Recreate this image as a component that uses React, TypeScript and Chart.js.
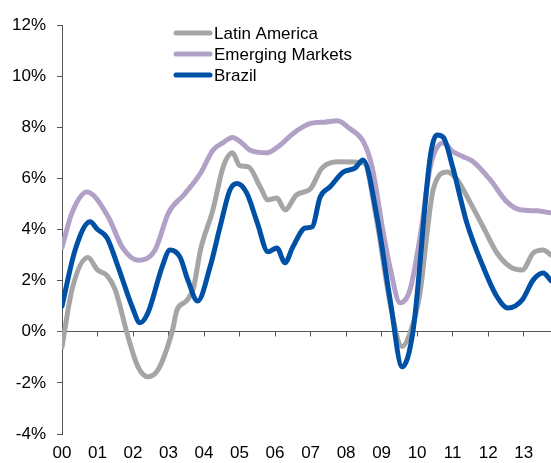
import React, { useEffect, useRef } from "react";
import { Chart, registerables } from "chart.js";

Chart.register(...registerables);

// Years are fractional years since 2000
const yearLabels = ["00", "01", "02", "03", "04", "05", "06", "07", "08", "09", "10", "11", "12", "13"];

const latamYears = [0, 0.28, 0.73, 1.0, 1.27, 1.5, 1.86, 2.14, 2.42, 2.7, 3.1, 3.24, 3.5, 3.7, 3.9, 4.25, 4.54, 4.8, 5.0, 5.25, 5.58, 5.8, 6.05, 6.28, 6.6, 7.0, 7.32, 7.83, 8.5, 8.87, 9.24, 9.58, 9.8, 10.08, 10.28, 10.45, 10.85, 11.13, 11.5, 11.86, 12.25, 12.62, 12.96, 13.27, 13.55, 13.77];
const latamValues = [-0.6, 1.64, 2.9, 2.42, 2.2, 1.64, -0.2, -1.37, -1.76, -1.5, 0.0, 0.86, 1.2, 1.7, 3.2, 4.77, 6.45, 7.0, 6.5, 6.45, 5.67, 5.16, 5.23, 4.77, 5.35, 5.6, 6.4, 6.65, 6.6, 4.3, 1.1, -0.58, -0.05, 1.5, 3.87, 5.55, 6.25, 5.94, 5.04, 4.1, 3.08, 2.54, 2.42, 3.08, 3.2, 3.0];

const emYears = [0, 0.28, 0.7, 1.3, 1.7, 2.14, 2.62, 3.0, 3.46, 3.9, 4.25, 4.54, 4.8, 5.05, 5.3, 5.77, 6.14, 6.5, 7.0, 7.4, 7.75, 8.1, 8.5, 8.73, 9.05, 9.24, 9.52, 9.8, 10.1, 10.37, 10.74, 11.0, 11.3, 11.58, 12.06, 12.53, 12.9, 13.38, 13.77];
const emValues = [3.3, 4.65, 5.47, 4.5, 3.3, 2.8, 3.2, 4.65, 5.4, 6.2, 7.1, 7.4, 7.6, 7.4, 7.1, 7.0, 7.3, 7.75, 8.15, 8.2, 8.25, 7.95, 7.4, 6.45, 3.85, 2.5, 1.13, 1.64, 3.85, 6.45, 7.38, 7.05, 6.85, 6.65, 5.94, 5.08, 4.77, 4.73, 4.65];

const brazilYears = [0, 0.37, 0.79, 1.0, 1.27, 1.58, 1.97, 2.2, 2.42, 2.82, 3.04, 3.32, 3.55, 3.82, 4.17, 4.45, 4.73, 4.93, 5.2, 5.5, 5.8, 6.05, 6.28, 6.5, 6.85, 7.04, 7.27, 7.55, 7.92, 8.25, 8.48, 8.87, 9.24, 9.58, 9.89, 10.37, 10.56, 10.74, 11.0, 11.4, 11.86, 12.25, 12.56, 12.96, 13.27, 13.55, 13.77];
const brazilValues = [1.0, 3.2, 4.3, 4.0, 3.67, 2.54, 1.0, 0.35, 0.74, 2.54, 3.2, 2.93, 2.0, 1.2, 2.54, 4.1, 5.55, 5.8, 5.43, 4.26, 3.13, 3.28, 2.7, 3.32, 4.06, 4.1, 5.27, 5.67, 6.25, 6.4, 6.72, 4.5, 1.25, -1.37, 0.08, 6.85, 7.7, 7.6, 6.45, 4.26, 2.54, 1.37, 0.93, 1.25, 2.03, 2.3, 2.0];

const seriesNames = ["Latin America", "Emerging Markets", "Brazil"];
const seriesColors = ["#A5A5A5", "#B2A1C7", "#0050A6"];

const FONT = "'Liberation Sans', Arial, sans-serif";
const AXIS_COLOR = "#555555";
const X_MAX = 13.77;

const toPoints = (xs: number[], ys: number[]) => xs.map((x, i) => ({ x, y: ys[i] }));

const align = (p: number) => Math.round(p - 0.5) + 0.5;

// x axis line crossing at 0% with downward tick marks
const zeroAxisPlugin = {
  id: "zeroAxis",
  afterDatasetsDraw(chart: any) {
    const { ctx, chartArea } = chart;
    const xs = chart.scales.x2;
    const ys = chart.scales.y;
    const y0 = align(ys.getPixelForValue(0));
    ctx.save();
    ctx.globalCompositeOperation = "destination-over";
    ctx.strokeStyle = AXIS_COLOR;
    ctx.lineWidth = 1;
    ctx.beginPath();
    ctx.moveTo(chartArea.left, y0);
    ctx.lineTo(chartArea.right, y0);
    for (let i = 0; i < yearLabels.length; i++) {
      const px = align(xs.getPixelForValue(i));
      ctx.moveTo(px, y0);
      ctx.lineTo(px, y0 + 5);
    }
    ctx.stroke();
    ctx.restore();
  },
};

const legendPlugin = {
  id: "insideLegend",
  afterDraw(chart: any) {
    const ctx = chart.ctx;
    ctx.save();
    chart.data.datasets.forEach((ds: any, i: number) => {
      const y = 33 + 21 * i;
      ctx.strokeStyle = ds.borderColor;
      ctx.lineWidth = 5;
      ctx.lineCap = "round";
      ctx.beginPath();
      ctx.moveTo(176, y);
      ctx.lineTo(210, y);
      ctx.stroke();
      ctx.fillStyle = "#000";
      ctx.font = `17px ${FONT}`;
      ctx.textBaseline = "middle";
      ctx.textAlign = "left";
      ctx.fillText(ds.label, 214, y + 1);
    });
    ctx.restore();
  },
};

export default function App() {
  const canvasRef = useRef<HTMLCanvasElement | null>(null);

  useEffect(() => {
    const canvas = canvasRef.current;
    if (!canvas) return;
    const datasets = [
      toPoints(latamYears, latamValues),
      toPoints(emYears, emValues),
      toPoints(brazilYears, brazilValues),
    ].map((data, i) => ({
      label: seriesNames[i],
      data,
      borderColor: seriesColors[i],
      backgroundColor: seriesColors[i],
      borderWidth: 5,
      pointRadius: 0,
      borderCapStyle: "round" as const,
      borderJoinStyle: "round" as const,
      cubicInterpolationMode: "monotone" as const,
      order: 2 - i,
      xAxisID: "x2",
    }));

    const chart = new Chart(canvas, {
      type: "line",
      data: { datasets },
      plugins: [zeroAxisPlugin, legendPlugin],
      options: {
        responsive: false,
        animation: false,
        layout: { padding: { top: 25, right: 0, left: 0, bottom: 0 } },
        plugins: { legend: { display: false }, tooltip: { enabled: false } },
        scales: {
          x2: {
            type: "linear",
            position: "bottom",
            min: 0,
            max: X_MAX,
            grid: { display: false, drawTicks: false },
            border: { display: false },
            ticks: {
              stepSize: 1,
              includeBounds: false,
              autoSkip: false,
              maxRotation: 0,
              padding: 9,
              color: "#000",
              font: { family: FONT, size: 17 },
              callback: (v: any) => yearLabels[Math.round(Number(v))] ?? "",
            },
            afterFit: (s: any) => {
              s.height = 29;
            },
          },
          y: {
            type: "linear",
            position: "left",
            min: -4,
            max: 12,
            grid: { drawOnChartArea: false, drawTicks: true, tickLength: 5, color: AXIS_COLOR, lineWidth: 1 },
            border: { display: true, color: AXIS_COLOR, width: 1 },
            ticks: {
              stepSize: 2,
              padding: 11,
              color: "#000",
              font: { family: FONT, size: 17 },
              callback: (v: any) => `${v}%`,
            },
            afterFit: (s: any) => {
              s.width = 62;
            },
          },
        },
      },
    });
    return () => chart.destroy();
  }, []);

  return (
    <div style={{ position: "fixed", left: 0, top: 0, width: 551, height: 463, background: "#fff" }}>
      <canvas ref={canvasRef} width={551} height={463} style={{ display: "block" }} />
    </div>
  );
}
